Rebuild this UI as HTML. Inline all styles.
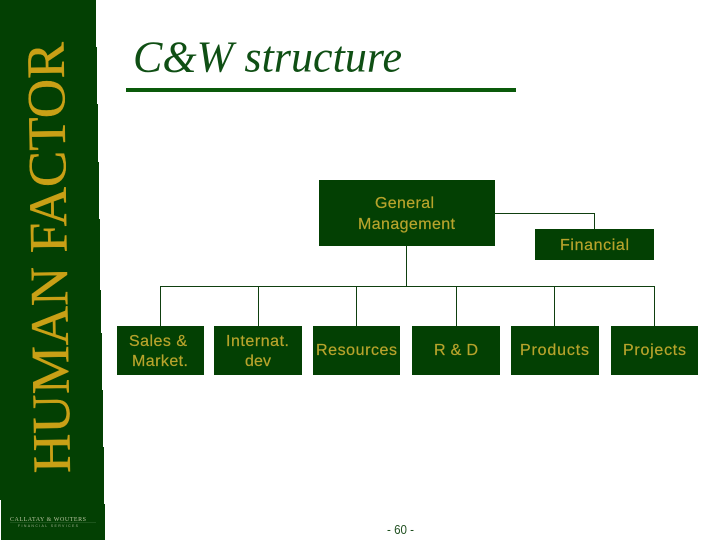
<!DOCTYPE html>
<html>
<head>
<meta charset="utf-8">
<style>
html,body{margin:0;padding:0;background:#fff;}
svg{display:block;}
</style>
</head>
<body>
<svg width="720" height="540" viewBox="0 0 720 540" xmlns="http://www.w3.org/2000/svg">
<rect width="720" height="540" fill="#fff"/>
<polygon fill="#034003" points="0,0 96,0 96,47 97,47 97,104 98,104 98,162 99,162 99,219 100,219 100,290 101,290 101,333 102,333 102,390 103,390 103,447 104,447 104,504 105,504 105,540 1,540 1,500 0,500"/>
<text transform="translate(70,473) rotate(-90.87)" font-family="Liberation Serif" font-size="54" fill="#c9a016" stroke="#c9a016" stroke-width="0.4" textLength="431" lengthAdjust="spacingAndGlyphs">HUMAN FACTOR</text>
<text x="10" y="521" font-family="Liberation Serif" font-size="6" fill="#b8c4a0" textLength="76" lengthAdjust="spacing">CALLATAY &amp; WOUTERS</text>
<rect x="10" y="522" width="86" height="1" fill="#1c551c"/>
<text x="18" y="527" font-family="Liberation Sans" font-size="3.500" fill="#a0b090" textLength="60" lengthAdjust="spacing">FINANCIAL SERVICES</text>

<text x="133" y="71.500" font-family="Liberation Serif" font-style="italic" font-size="44" fill="#0f4f14" textLength="269" lengthAdjust="spacing">C&amp;W structure</text>
<rect x="126" y="88" width="390" height="4" fill="#0a5a0a"/>

<g stroke="#0f3f0f" stroke-width="1" fill="none">
<path d="M495 213.500H594.500V229"/>
<path d="M406.500 246V286.500"/>
<path d="M160.500 326V286.500H654.500V326"/>
<path d="M258.500 286.500V326M356.500 286.500V326M456.500 286.500V326M554.500 286.500V326"/>
</g>

<g fill="#034003">
<rect x="319" y="180" width="176" height="66"/>
<rect x="535" y="229" width="119" height="31"/>
<rect x="117" y="326" width="87" height="49"/>
<rect x="214" y="326" width="88" height="49"/>
<rect x="313" y="326" width="87" height="49"/>
<rect x="412" y="326" width="88" height="49"/>
<rect x="511" y="326" width="88" height="49"/>
<rect x="611" y="326" width="87" height="49"/>
</g>

<g font-family="Liberation Sans" font-size="16" fill="#b8a42c" stroke="#b8a42c" stroke-width="0.2" lengthAdjust="spacing">
<text x="375" y="208" textLength="59">General</text>
<text x="358" y="229" textLength="97">Management</text>
<text x="560" y="250" textLength="69">Financial</text>
<text x="129" y="346" textLength="58">Sales &amp;</text>
<text x="132" y="366" textLength="56">Market.</text>
<text x="226" y="346" textLength="63">Internat.</text>
<text x="245" y="366" textLength="26">dev</text>
<text x="316" y="355" textLength="81">Resources</text>
<text x="434" y="355" textLength="44">R &amp; D</text>
<text x="520" y="355" textLength="69">Products</text>
<text x="623" y="355" textLength="63">Projects</text>
</g>

<text x="387" y="534" font-family="Liberation Sans" font-size="13" fill="#1f4f1f" textLength="27" lengthAdjust="spacingAndGlyphs">- 60 -</text>
</svg>
</body>
</html>
